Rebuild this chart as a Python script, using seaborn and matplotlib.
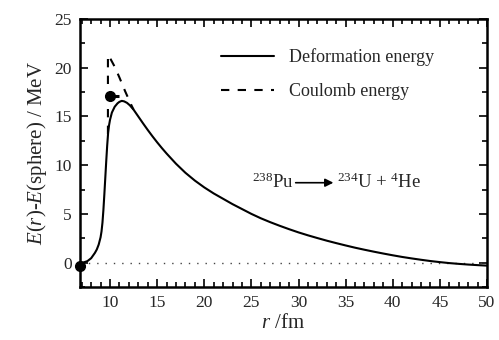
import matplotlib
matplotlib.use("Agg")
import matplotlib.pyplot as plt
from matplotlib.ticker import MultipleLocator
import seaborn as sns
import pandas as pd

# Deformation energy along the fission path (fm, MeV)
r_def = [6.8, 7.2, 7.6, 8.0, 8.4, 8.6, 8.8, 9.0, 9.1, 9.2, 9.3, 9.4, 9.5,
         9.6, 9.7, 9.8, 9.9, 10.0, 10.2, 10.5, 10.8, 11.0, 11.25, 11.5, 11.8,
         12.1, 12.5, 13.0, 13.5, 14.0, 14.5, 15.0, 15.5, 16.0, 17.0, 18.0,
         19.0, 20.0, 21.0, 22.0, 23.0, 24.0, 25.0, 26.0, 27.0, 28.0, 29.0,
         30.0, 31.0, 32.0, 33.0, 34.0, 35.0, 36.0, 37.0, 38.0, 39.0, 40.0,
         41.0, 42.0, 43.0, 44.0, 45.0, 46.0, 47.0, 48.0, 49.0, 50.0]
e_def = [0.0, 0.02, 0.15, 0.45, 1.0, 1.35, 1.85, 2.6, 3.2, 4.1, 5.4, 7.0, 8.7,
         10.4, 12.0, 13.3, 14.1, 14.65, 15.4, 16.0, 16.35, 16.5, 16.6, 16.55, 16.4,
         16.15, 15.7, 15.0, 14.3, 13.62, 12.97, 12.35, 11.76, 11.2, 10.15, 9.22,
         8.42, 7.72, 7.1, 6.55, 6.0, 5.5, 5.0, 4.55, 4.15, 3.78, 3.43,
         3.1, 2.8, 2.52, 2.25, 2.0, 1.76, 1.53, 1.32, 1.12, 0.93, 0.75,
         0.58, 0.43, 0.29, 0.16, 0.05, -0.05, -0.13, -0.2, -0.26, -0.31]

# Coulomb energy near the touching point
r_coul = [9.78, 9.78, 10.0, 10.5, 11.0, 11.6, 12.2, 12.5]
e_coul = [13.2, 21.3, 21.0, 20.1, 19.0, 17.6, 16.3, 15.7]

# Marked states: ground state and touching configuration
r_ground, e_ground = 6.8, -0.3
r_touch, e_touch = 10.02, 17.1
r_touch_end = 11.0

sns.set_style("ticks")
plt.rcParams["font.family"] = ["Liberation Serif", "DejaVu Serif"]
plt.rcParams["mathtext.fontset"] = "custom"
plt.rcParams["mathtext.rm"] = "Liberation Serif"
plt.rcParams["mathtext.it"] = "Liberation Serif:italic"

df_def = pd.DataFrame({"r": r_def, "E": e_def})
df_coul = pd.DataFrame({"r": r_coul, "E": e_coul})

fig = plt.figure(figsize=(4.99, 3.40), dpi=100)
ax = fig.add_axes([0.160, 0.156, 0.816, 0.788])

ax.axhline(0, color="#444444", lw=1.0, ls=(0, (1, 5)), zorder=1)

sns.lineplot(data=df_def, x="r", y="E", ax=ax, color="black", lw=1.5,
             sort=False, estimator=None, label="Deformation energy")
sns.lineplot(data=df_coul, x="r", y="E", ax=ax, color="black", lw=1.5,
             sort=False, estimator=None, label="Coulomb energy",
             linestyle=(0, (4, 4)))

ax.plot([r_touch, r_touch_end], [e_touch, e_touch], color="black", lw=2.2,
        solid_capstyle="butt")
ax.plot([r_touch], [e_touch], "o", color="black", ms=7)
ax.plot([r_ground], [e_ground], "o", color="black", ms=7, clip_on=False,
        zorder=5)

ax.set_xlim(6.8, 50)
ax.set_ylim(-2.5, 25)
ax.xaxis.set_major_locator(MultipleLocator(5))
ax.xaxis.set_minor_locator(MultipleLocator(1))
ax.yaxis.set_major_locator(MultipleLocator(5))
ax.yaxis.set_minor_locator(MultipleLocator(2.5))
ax.tick_params(which="both", direction="in", top=True, right=True,
               labelsize=12.5, width=1.2, color="black", pad=6)
ax.tick_params(which="major", length=6)
ax.tick_params(which="minor", length=3.5)
for sp in ax.spines.values():
    sp.set_visible(True)
    sp.set_linewidth(1.8)
    sp.set_color("black")

ax.set_xlabel("$r$ /fm", fontsize=15, labelpad=2)
ax.set_ylabel("$E$($r$)-$E$(sphere) / MeV", fontsize=15, labelpad=4)

ax.legend(loc="upper left", bbox_to_anchor=(0.33, 0.918), frameon=False,
          fontsize=13, handlelength=2.9, handletextpad=0.85, labelspacing=0.95,
          borderaxespad=0)

ax.text(29.5, 8.2, "$^{238}$Pu", ha="right", va="center", fontsize=13.5)
ax.annotate("", xy=(33.7, 8.2), xytext=(29.7, 8.2),
            arrowprops=dict(arrowstyle="-|>", color="black", lw=1.2,
                            mutation_scale=12, shrinkA=0, shrinkB=0))
ax.text(34.1, 8.2, "$^{234}$U + $^{4}$He", ha="left", va="center",
        fontsize=13.5)

fig.savefig("out.png", dpi=100)
